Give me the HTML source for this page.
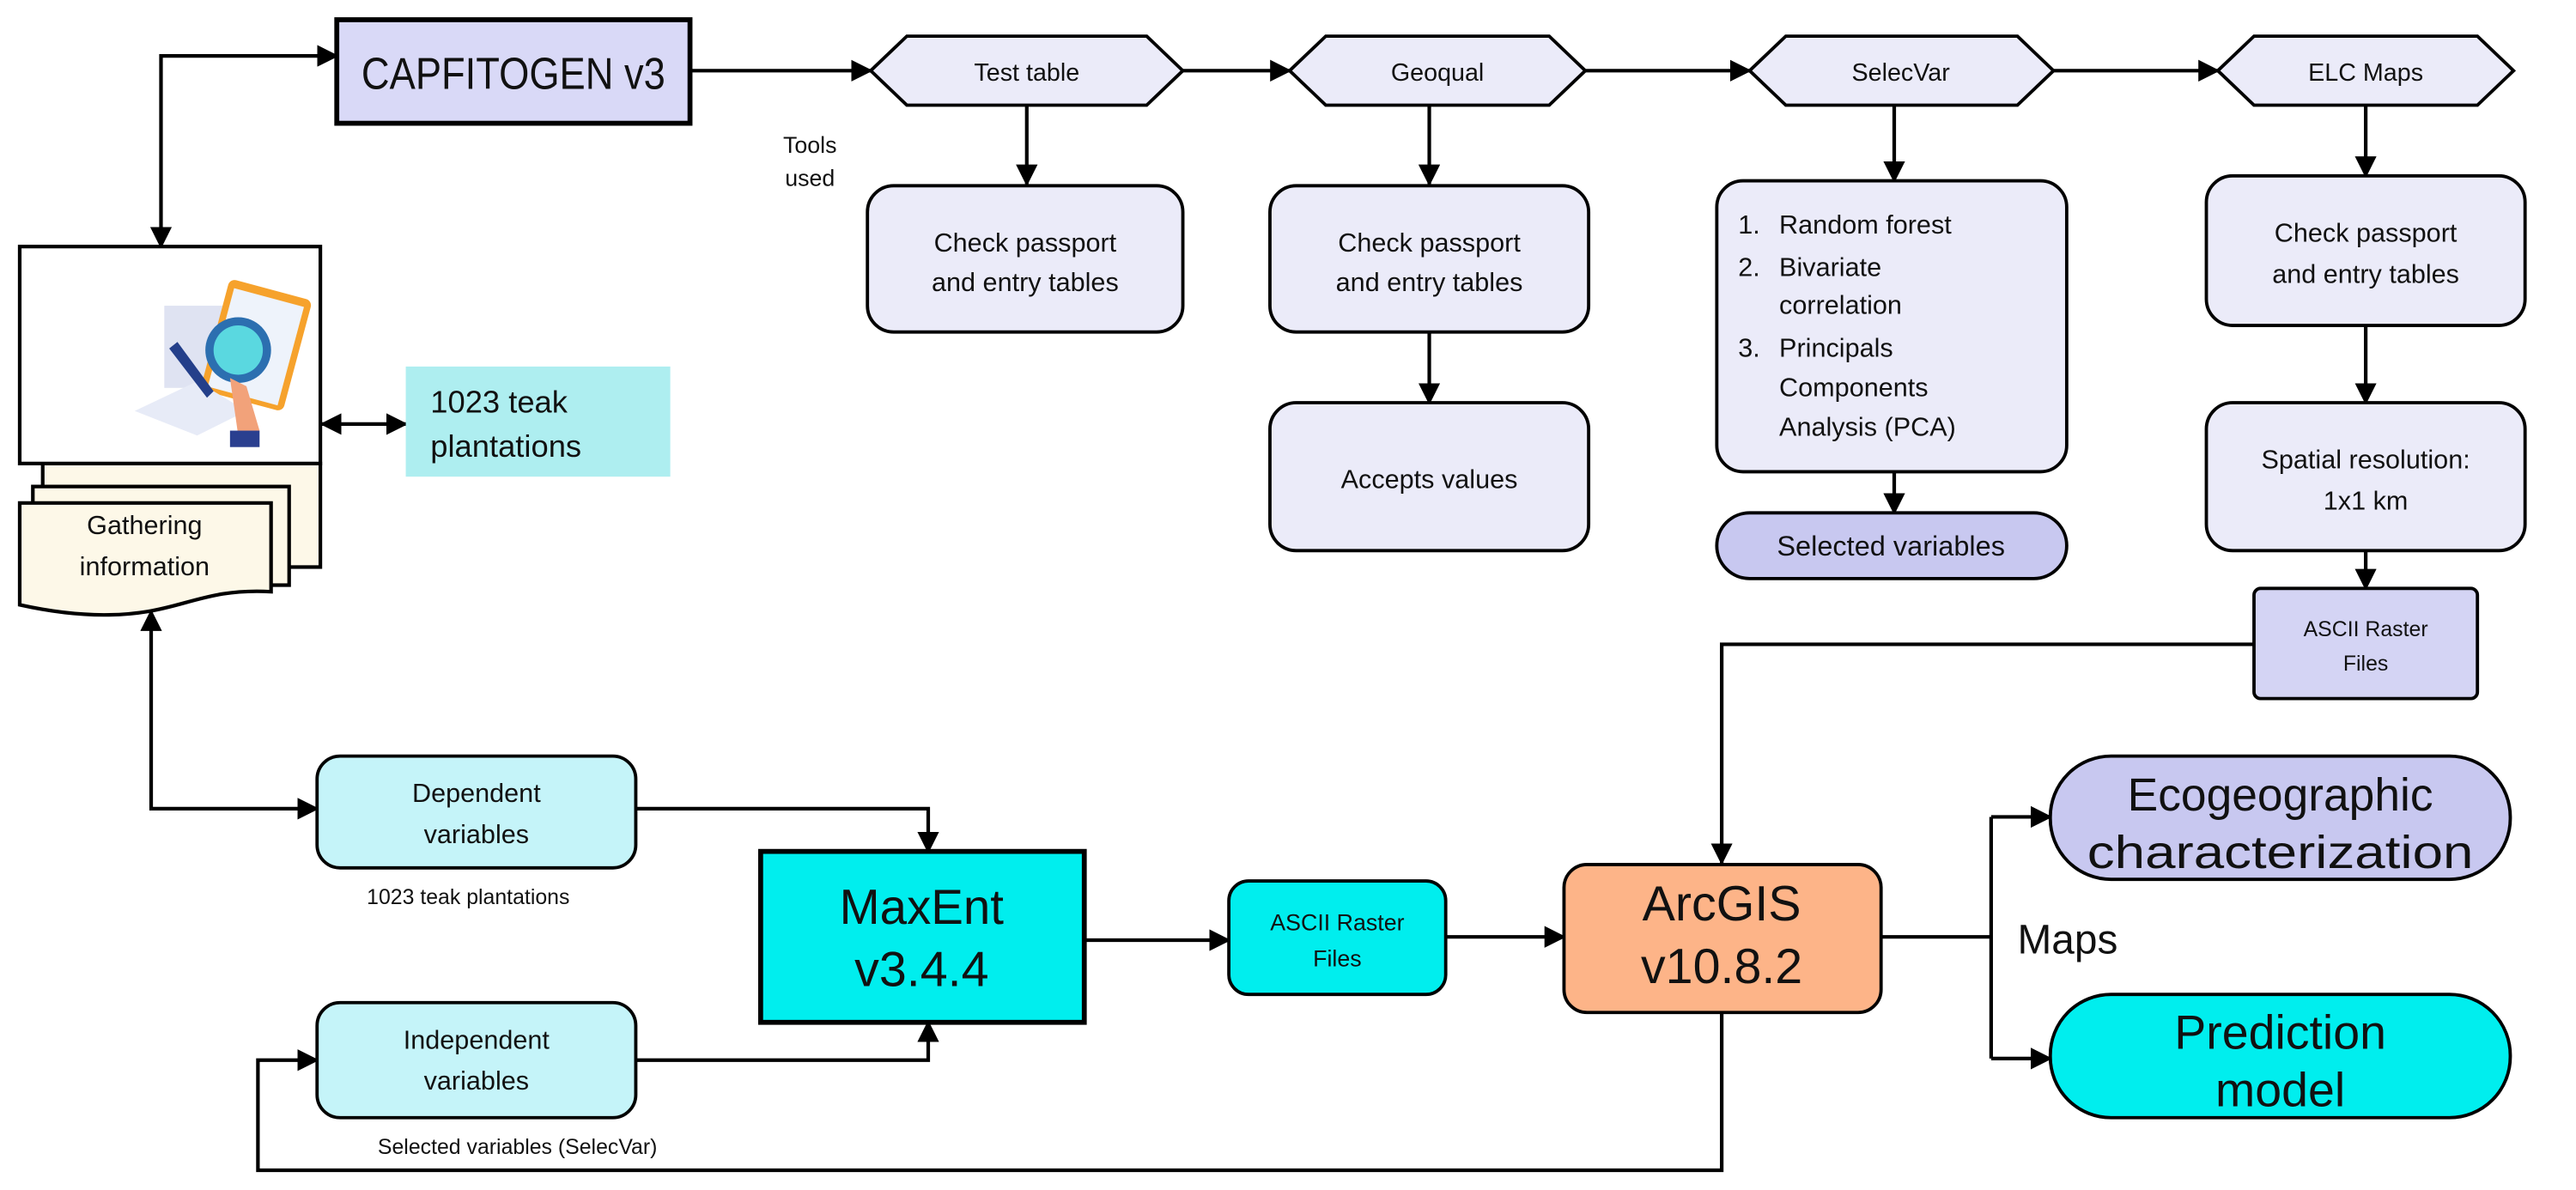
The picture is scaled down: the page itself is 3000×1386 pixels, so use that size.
<!DOCTYPE html>
<html><head><meta charset="utf-8"><style>html,body{margin:0;padding:0;background:#fff}svg{display:block}text{font-family:"Liberation Sans",sans-serif;fill:#111}</style></head>
<body>
<svg width="3000" height="1386" viewBox="0 0 1568 724" preserveAspectRatio="none" xmlns="http://www.w3.org/2000/svg">
<defs>
<marker id="a" viewBox="0 0 10 10" refX="9" refY="5" markerWidth="6" markerHeight="6" orient="auto-start-reverse"><path d="M0,0L10,5L0,10z" fill="#000"/></marker>
</defs>
<g stroke="#000" stroke-width="2.2" fill="none">
<path d="M98,150V34H205" marker-start="url(#a)" marker-end="url(#a)"/>
<path d="M420,43H530" marker-end="url(#a)"/>
<path d="M720,43H785" marker-end="url(#a)"/>
<path d="M965,43H1065" marker-end="url(#a)"/>
<path d="M1250,43H1350" marker-end="url(#a)"/>
<path d="M625,64V112" marker-end="url(#a)"/>
<path d="M870,64V112" marker-end="url(#a)"/>
<path d="M870,202V245" marker-end="url(#a)"/>
<path d="M1153,64V110" marker-end="url(#a)"/>
<path d="M1153,287V312" marker-end="url(#a)"/>
<path d="M1440,64V107" marker-end="url(#a)"/>
<path d="M1440,198V245" marker-end="url(#a)"/>
<path d="M1440,335V358" marker-end="url(#a)"/>
<path d="M1372,392H1048V525" marker-end="url(#a)"/>
<path d="M196,258H247" marker-start="url(#a)" marker-end="url(#a)"/>
<path d="M92,372V492H193" marker-start="url(#a)" marker-end="url(#a)"/>
<path d="M387,492H565V518" marker-end="url(#a)"/>
<path d="M387,645H565V622" marker-end="url(#a)"/>
<path d="M660,572H748" marker-end="url(#a)"/>
<path d="M880,570H952" marker-end="url(#a)"/>
<path d="M1048,616V712H157V645H193" marker-end="url(#a)"/>
<path d="M1145,570H1212"/>
<path d="M1212,497V644"/>
<path d="M1212,497H1248" marker-end="url(#a)"/>
<path d="M1212,644H1248" marker-end="url(#a)"/>
</g>
<rect x="205" y="12" width="215" height="63" fill="#d9d9f7" stroke="#000" stroke-width="3"/>
<text x="220" y="54" font-size="27" textLength="185" lengthAdjust="spacingAndGlyphs">CAPFITOGEN v3</text>
<text x="493" y="93" font-size="14" text-anchor="middle">Tools</text>
<text x="493" y="113" font-size="14" text-anchor="middle">used</text>
<g fill="#ebebf9" stroke="#000" stroke-width="2">
<polygon points="530,43 552,22 698,22 720,43 698,64 552,64"/>
<polygon points="785,43 807,22 943,22 965,43 943,64 807,64"/>
<polygon points="1065,43 1087,22 1228,22 1250,43 1228,64 1087,64"/>
<polygon points="1350,43 1372,22 1508,22 1530,43 1508,64 1372,64"/>
</g>
<g font-size="15" text-anchor="middle">
<text x="625" y="49">Test table</text>
<text x="875" y="49">Geoqual</text>
<text x="1157" y="49">SelecVar</text>
<text x="1440" y="49">ELC Maps</text>
</g>
<g fill="#ebebf9" stroke="#000" stroke-width="2">
<rect x="528" y="113" width="192" height="89" rx="16"/>
<rect x="773" y="113" width="194" height="89" rx="16"/>
<rect x="773" y="245" width="194" height="90" rx="16"/>
<rect x="1045" y="110" width="213" height="177" rx="16"/>
<rect x="1343" y="107" width="194" height="91" rx="16"/>
<rect x="1343" y="245" width="194" height="90" rx="16"/>
</g>
<rect x="1045" y="312" width="213" height="40" rx="20" fill="#c8c8f0" stroke="#000" stroke-width="2"/>
<rect x="1372" y="358" width="136" height="67" rx="4" fill="#d4d4f4" stroke="#000" stroke-width="2"/>
<g font-size="16" text-anchor="middle">
<text x="624" y="153">Check passport</text><text x="624" y="177">and entry tables</text>
<text x="870" y="153">Check passport</text><text x="870" y="177">and entry tables</text>
<text x="870" y="297">Accepts values</text>
<text x="1440" y="147">Check passport</text><text x="1440" y="172">and entry tables</text>
<text x="1440" y="285">Spatial resolution:</text><text x="1440" y="310">1x1 km</text>
<text x="1151" y="338" font-size="17">Selected variables</text>
<text x="1440" y="387" font-size="13">ASCII Raster</text><text x="1440" y="408" font-size="13">Files</text>
</g>
<g font-size="16">
<text x="1058" y="142">1.</text><text x="1083" y="142">Random forest</text>
<text x="1058" y="168">2.</text><text x="1083" y="168">Bivariate</text>
<text x="1083" y="191">correlation</text>
<text x="1058" y="217">3.</text><text x="1083" y="217">Principals</text>
<text x="1083" y="241">Components</text>
<text x="1083" y="265">Analysis (PCA)</text>
</g>
<g stroke="#000" stroke-width="2.2">
<rect x="26" y="282" width="169" height="63" fill="#fdf8e8"/>
<rect x="20" y="296" width="156" height="60" fill="#fdf8e8"/>
<path d="M12,306H165V360C130,358 115,368 90,372C60,377 30,372 12,368Z" fill="#fdf8e8"/>
<rect x="12" y="150" width="183" height="132" fill="#fff"/>
</g>
<g>
<rect x="100" y="186" width="40" height="50" fill="#dfe3f2"/>
<rect x="130" y="175" width="52" height="70" rx="4" fill="#f6a22c" transform="rotate(15 156 210)"/>
<rect x="134" y="180" width="44" height="62" fill="#eef3fb" transform="rotate(15 156 210)"/>
<path d="M82,250L120,232L150,250L120,265Z" fill="#e7ebf7"/>
<circle cx="145" cy="213" r="20" fill="#2c6fb0"/><circle cx="145" cy="213" r="15" fill="#5ad8e0"/>
<path d="M140,230L145,265L158,262L150,235Z" fill="#f2a27a"/>
<rect x="140" y="262" width="18" height="10" fill="#2a3f8f"/>
<path d="M108,208L130,238L126,242L103,212Z" fill="#243f8a"/>
</g>
<text x="88" y="325" font-size="16" text-anchor="middle">Gathering</text>
<text x="88" y="350" font-size="16" text-anchor="middle">information</text>
<rect x="247" y="223" width="161" height="67" fill="#aeeef0"/>
<text x="262" y="251" font-size="19">1023 teak</text>
<text x="262" y="278" font-size="19">plantations</text>
<g stroke="#000" stroke-width="2">
<rect x="193" y="460" width="194" height="68" rx="14" fill="#c5f4f9"/>
<rect x="193" y="610" width="194" height="70" rx="14" fill="#c5f4f9"/>
<rect x="463" y="518" width="197" height="104" fill="#00eeee" stroke-width="3"/>
<rect x="748" y="536" width="132" height="69" rx="12" fill="#00eeee"/>
<rect x="952" y="526" width="193" height="90" rx="14" fill="#fdb488"/>
<rect x="1248" y="460" width="280" height="75" rx="37" fill="#c8c8f0"/>
<rect x="1248" y="605" width="280" height="75" rx="37" fill="#00eeee"/>
</g>
<g text-anchor="middle">
<text x="290" y="488" font-size="16">Dependent</text><text x="290" y="513" font-size="16">variables</text>
<text x="285" y="550" font-size="13">1023 teak plantations</text>
<text x="290" y="638" font-size="16">Independent</text><text x="290" y="663" font-size="16">variables</text>
<text x="315" y="702" font-size="13">Selected variables (SelecVar)</text>
<text x="561" y="562" font-size="30" textLength="100" lengthAdjust="spacingAndGlyphs">MaxEnt</text><text x="561" y="600" font-size="30">v3.4.4</text>
<text x="814" y="566" font-size="14">ASCII Raster</text><text x="814" y="588" font-size="14">Files</text>
<text x="1048" y="560" font-size="30">ArcGIS</text><text x="1048" y="598" font-size="30">v10.8.2</text>
<text x="1388" y="493" font-size="28" textLength="186" lengthAdjust="spacingAndGlyphs">Ecogeographic</text><text x="1388" y="528" font-size="28" textLength="235" lengthAdjust="spacingAndGlyphs">characterization</text>
<text x="1388" y="638" font-size="29">Prediction</text><text x="1388" y="673" font-size="29">model</text>
</g>
<text x="1228" y="580" font-size="25">Maps</text>
</svg>
</body></html>
